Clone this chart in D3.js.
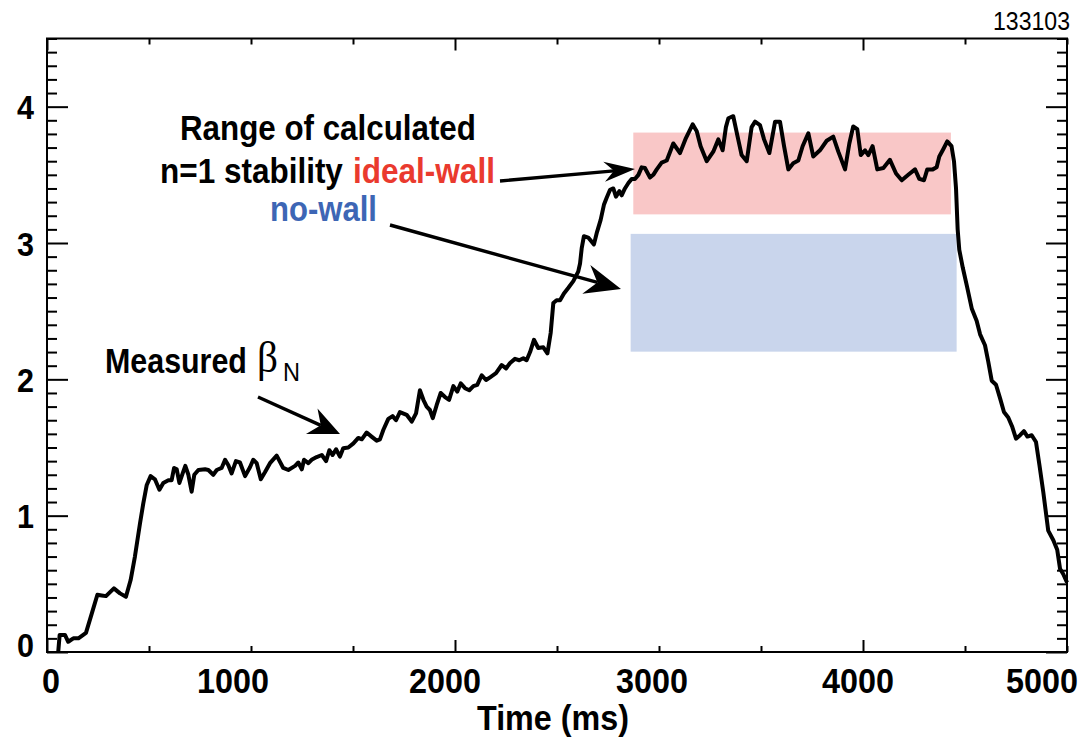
<!DOCTYPE html>
<html><head><meta charset="utf-8">
<script src="https://cdn.jsdelivr.net/npm/d3@7"></script>
<style>body{margin:0;background:#fff;} svg{display:block;}</style>
</head><body>
<svg id="c" width="1092" height="741"></svg>
<script>
// ---- data ----
const timeMs = [55,62,88,104,129,154,191,219,247,268,289,328,358,387,410,431,456,472,489,508,529,551,570,595,611,623,636,649,665,678,693,709,722,742,775,791,815,832,856,873,889,905,926,946,971,995,1011,1028,1048,1069,1093,1126,1158,1183,1216,1232,1249,1260,1281,1297,1322,1347,1368,1384,1400,1417,1436,1452,1477,1502,1526,1543,1567,1591,1616,1632,1649,1673,1694,1711,1730,1763,1788,1809,1828,1845,1861,1877,1891,1910,1930,1951,1971,1992,2011,2028,2049,2070,2090,2109,2131,2152,2172,2201,2229,2250,2270,2294,2315,2335,2351,2368,2387,2408,2433,2453,2469,2482,2498,2515,2534,2555,2580,2604,2613,2621,2632,2653,2681,2696,2714,2730,2743,2760,2776,2789,2806,2817,2833,2850,2866,2882,2899,2915,2931,2956,2972,2989,3013,3038,3070,3103,3132,3165,3185,3204,3234,3266,3291,3312,3328,3340,3364,3384,3405,3430,3454,3471,3495,3515,3541,3569,3593,3613,3634,3658,3683,3704,3732,3756,3789,3822,3854,3879,3912,3933,3952,3972,3989,4010,4026,4047,4070,4100,4132,4162,4190,4222,4255,4276,4299,4315,4342,4361,4374,4394,4413,4434,4446,4456,4464,4472,4489,4510,4533,4557,4574,4598,4614,4631,4652,4672,4691,4712,4732,4750,4770,4789,4806,4827,4848,4865,4884,4908,4933,4952,4966,4982,5000];
const betaN = [0,0.125,0.125,0.075,0.10,0.10,0.14,0.28,0.42,0.415,0.41,0.467,0.43,0.405,0.528,0.70,0.944,1.09,1.225,1.29,1.267,1.19,1.24,1.26,1.26,1.35,1.34,1.24,1.31,1.365,1.30,1.176,1.30,1.335,1.34,1.335,1.30,1.335,1.35,1.41,1.37,1.31,1.40,1.39,1.29,1.355,1.41,1.385,1.267,1.32,1.385,1.44,1.35,1.335,1.365,1.39,1.34,1.41,1.385,1.41,1.43,1.445,1.40,1.48,1.445,1.487,1.433,1.495,1.50,1.53,1.57,1.56,1.61,1.58,1.55,1.56,1.63,1.71,1.73,1.70,1.76,1.74,1.69,1.75,1.92,1.85,1.80,1.775,1.715,1.81,1.90,1.87,1.85,1.95,1.91,1.97,1.935,1.92,1.95,1.96,2.03,1.995,2.015,2.045,2.105,2.08,2.12,2.15,2.14,2.155,2.14,2.20,2.29,2.23,2.235,2.19,2.34,2.56,2.58,2.58,2.63,2.67,2.72,2.79,2.85,2.96,3.05,3.04,2.99,3.08,3.17,3.28,3.33,3.39,3.40,3.34,3.38,3.35,3.40,3.44,3.47,3.47,3.50,3.555,3.55,3.48,3.50,3.54,3.59,3.605,3.73,3.66,3.77,3.87,3.82,3.71,3.60,3.67,3.76,3.68,3.85,3.915,3.93,3.79,3.645,3.60,3.85,3.89,3.865,3.76,3.66,3.89,3.89,3.71,3.54,3.585,3.605,3.71,3.805,3.635,3.68,3.75,3.78,3.67,3.54,3.73,3.855,3.835,3.645,3.68,3.645,3.71,3.54,3.55,3.61,3.51,3.46,3.50,3.54,3.47,3.46,3.54,3.54,3.555,3.635,3.69,3.745,3.71,3.60,3.40,3.10,2.95,2.82,2.68,2.52,2.43,2.33,2.25,2.13,1.99,1.96,1.86,1.76,1.72,1.65,1.565,1.59,1.62,1.58,1.59,1.54,1.37,1.17,0.89,0.82,0.75,0.61,0.57,0.51];

const xTickValues = [0,1000,2000,3000,4000,5000];
const xTickLabels = ["0","1000","2000","3000","4000","5000"];
const yTickValues = [0,1,2,3,4];
const yTickLabels = ["0","1","2","3","4"];

// stability ranges: [tStart, tEnd, low, high]
const idealWallRange = [2874, 4431, 3.21, 3.81];
const noWallRange = [2861, 4459, 2.203, 3.067];

const shotNumber = "133103";

// ---- layout ----
const svg = d3.select("#c");
const L = 47, R = 1067, T = 38.5, B = 652;
const x = d3.scaleLinear().domain([0, 5000]).range([L, R]);
const y = d3.scaleLinear().domain([0, 4.5]).range([B, T]);
const FONT = "'Liberation Sans', Arial, Helvetica, sans-serif";

// ranges
svg.append("rect")
  .attr("x", x(noWallRange[0])).attr("width", x(noWallRange[1]) - x(noWallRange[0]))
  .attr("y", y(noWallRange[3])).attr("height", y(noWallRange[2]) - y(noWallRange[3]))
  .attr("fill", "#c9d5ec");
svg.append("rect")
  .attr("x", x(idealWallRange[0])).attr("width", x(idealWallRange[1]) - x(idealWallRange[0]))
  .attr("y", y(idealWallRange[3])).attr("height", y(idealWallRange[2]) - y(idealWallRange[3]))
  .attr("fill", "#f9c7c7");

// curve
const pts = timeMs.map((t, i) => [t, betaN[i]]);
svg.append("path")
  .datum(pts)
  .attr("d", d3.line().x(d => x(d[0])).y(d => y(d[1])))
  .attr("fill", "none").attr("stroke", "#000").attr("stroke-width", 4)
  .attr("stroke-linejoin", "round");

// frame
svg.append("rect").attr("x", L).attr("y", T).attr("width", R - L).attr("height", B - T)
  .attr("fill", "none").attr("stroke", "#000").attr("stroke-width", 2);

// ticks via d3 axes
const xt = d3.range(0, 5001, 500);
const yt = d3.range(0, 45.01, 1).map(v => v / 10);
function styleAxis(g){ g.select(".domain").remove(); g.selectAll("line").attr("stroke","#000").attr("stroke-width",2); g.selectAll("text").remove(); }
svg.append("g").attr("transform", `translate(0,${B})`)
  .call(d3.axisBottom(x).tickValues(xt).tickSize(-6).tickFormat(""))
  .call(styleAxis)
  .selectAll(".tick line").attr("y2", d => d % 2000 === 0 ? -12 : -6);
svg.append("g").attr("transform", `translate(0,${T})`)
  .call(d3.axisTop(x).tickValues(xt).tickSize(-6).tickFormat(""))
  .call(styleAxis)
  .selectAll(".tick line").attr("y2", d => d % 2000 === 0 ? 12 : 6);
svg.append("g").attr("transform", `translate(${L},0)`)
  .call(d3.axisLeft(y).tickValues(yt).tickSize(-10).tickFormat(""))
  .call(styleAxis)
  .selectAll(".tick line").attr("x2", d => Math.abs(d - Math.round(d)) < 1e-6 ? 21 : 10);
svg.append("g").attr("transform", `translate(${R},0)`)
  .call(d3.axisRight(y).tickValues(yt).tickSize(-10).tickFormat(""))
  .call(styleAxis)
  .selectAll(".tick line").attr("x2", d => Math.abs(d - Math.round(d)) < 1e-6 ? -21 : -10);

// text helper: scales glyphs horizontally to the target width (condensed look)
function txt(s, xx, yy, len, opts = {}) {
  const t = svg.append("text").attr("x", 0).attr("y", 0)
    .attr("font-family", opts.family || FONT)
    .attr("font-weight", opts.weight || "bold")
    .attr("font-size", opts.size || 35)
    .attr("fill", opts.fill || "#000")
    .attr("text-anchor", opts.anchor || "start")
    .text(s);
  const w = t.node().getComputedTextLength() || len;
  t.attr("transform", `translate(${xx},${yy}) scale(${len / w},1)`);
  return t;
}

// tick labels
const xLabelDx = [4, -18, -10, -7, -5, -25];
xTickValues.forEach((d, i) =>
  txt(xTickLabels[i], x(d) + xLabelDx[i], 693, xTickLabels[i].length * 18, {size: 35, anchor: "middle"}));
yTickValues.forEach((d, i) =>
  txt(yTickLabels[i], 34, d === 0 ? y(d) + 5 : y(d) + 12.5, 17, {size: 34, anchor: "end"}));

// axis title & shot number
txt("Time (ms)", 477, 730, 152, {size: 35});
txt(shotNumber, 993, 30, 77, {size: 25, weight: "normal"});

// annotations
txt("Range of calculated", 180, 140, 296);
txt("n=1 stability", 160, 183, 183);
txt("ideal-wall", 353, 183, 142, {fill: "#ea3a2e"});
txt("no-wall", 270, 221, 107, {fill: "#3d66b5"});
txt("Measured", 105, 373, 142);
txt("\u03B2", 257, 372, 21, {family: "'Liberation Serif', 'Times New Roman', serif", weight: "normal", size: 44});
txt("N", 283, 381, 17, {size: 25, weight: "normal"});

// arrows
function arrow(x0, y0, x1, y1, len, hw) {
  const dx = x1 - x0, dy = y1 - y0, d = Math.hypot(dx, dy);
  const ux = dx / d, uy = dy / d, nx = -uy, ny = ux;
  const bx = x1 - ux * len, by = y1 - uy * len;
  const kx = x1 - ux * len * 0.68, ky = y1 - uy * len * 0.68;
  svg.append("line").attr("x1", x0).attr("y1", y0).attr("x2", kx).attr("y2", ky)
    .attr("stroke", "#000").attr("stroke-width", 3.4);
  svg.append("path")
    .attr("d", `M${x1},${y1}L${bx + nx * hw},${by + ny * hw}L${kx},${ky}L${bx - nx * hw},${by - ny * hw}Z`)
    .attr("fill", "#000");
}
arrow(500, 181, 635, 169, 31, 10);
arrow(390, 225, 621, 289, 36, 15);
arrow(258, 397, 340, 434, 31, 14);
</script>
</body></html>
